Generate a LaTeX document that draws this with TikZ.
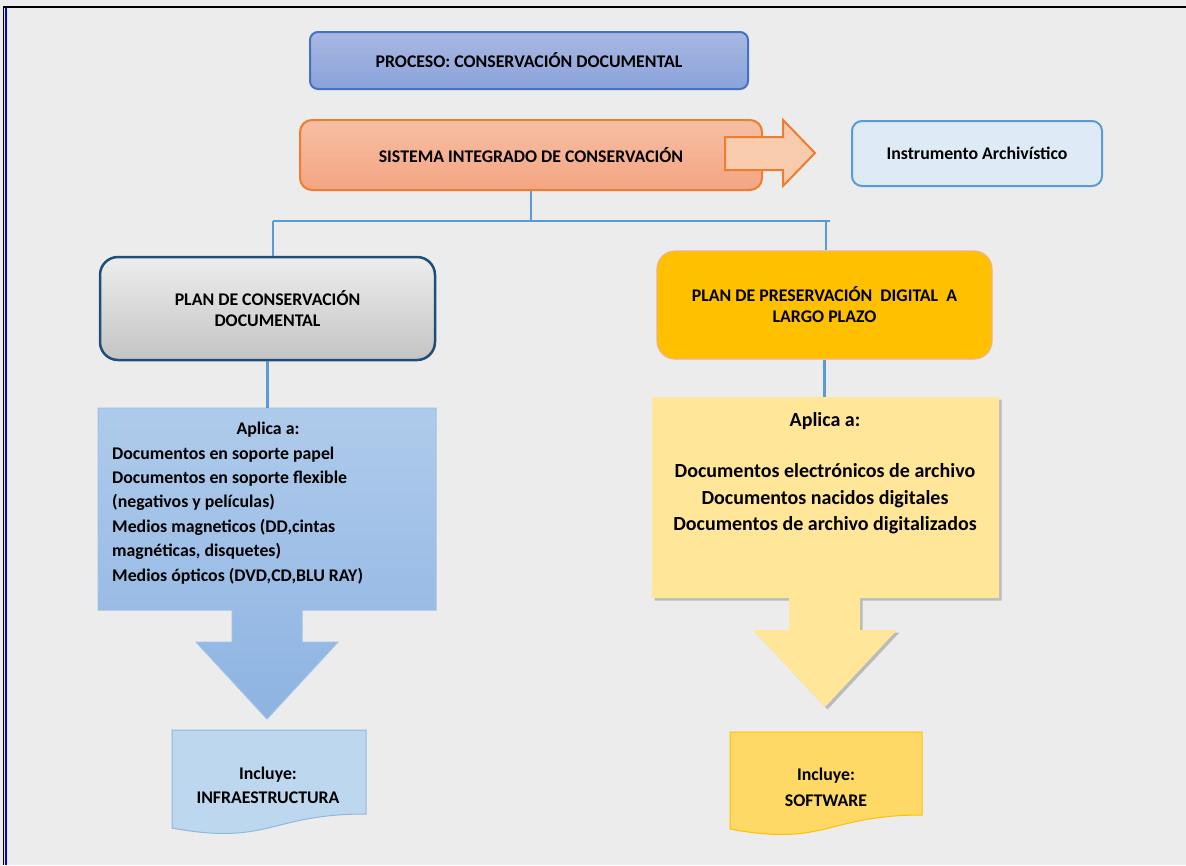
\documentclass[tikz,border=0pt]{standalone}
\usepackage{fontspec}
\setmainfont{Carlito}
\usetikzlibrary{shadows,calc}
\definecolor{bg}{HTML}{ECECEC}
\definecolor{procF}{HTML}{A9B8E2}
\definecolor{procG}{HTML}{8AA2DA}
\definecolor{procD}{HTML}{4472C4}
\definecolor{sisF}{HTML}{F7BEA3}
\definecolor{sisG}{HTML}{F4A582}
\definecolor{sisD}{HTML}{ED7D31}
\definecolor{arrF}{HTML}{F8CBAD}
\definecolor{insF}{HTML}{DEEBF7}
\definecolor{insD}{HTML}{5B9BD5}
\definecolor{pcF}{HTML}{EDEDED}
\definecolor{pcG}{HTML}{C4C4C4}
\definecolor{pcD}{HTML}{1F4E79}
\definecolor{pdF}{HTML}{FFC000}
\definecolor{pdD}{HTML}{F4B183}
\definecolor{blF}{HTML}{AFCBEB}
\definecolor{blG}{HTML}{8DB3E2}
\definecolor{blD}{HTML}{9DC3E6}
\definecolor{yeF}{HTML}{FFE699}
\definecolor{infF}{HTML}{BDD7EE}
\definecolor{infD}{HTML}{8FB8E0}
\definecolor{swF}{HTML}{FFD966}
\definecolor{swD}{HTML}{FFC000}
\definecolor{conC}{HTML}{5B9BD5}
\definecolor{frameB}{HTML}{0000EE}
\begin{document}
\begin{tikzpicture}[x=1pt,y=-1pt,
  font=\fontsize{17.8}{21}\selectfont\bfseries,
  box/.style={rectangle, inner sep=0pt, align=center, text=black},
  conn/.style={draw=conC, line width=2.2pt},
  txt/.style={inner sep=0pt, text=black}]
\useasboundingbox (0,0) rectangle (1186,865);
\fill[bg] (0,0) rectangle (1186,865);
\draw[black, line width=2.5pt] (3,7) -- (1186,7);
\draw[black, line width=1pt] (3.5,6) -- (3.5,865);
\draw[frameB, line width=2.6pt] (5.8,8) -- (5.8,865);

% top boxes
\node[box, rounded corners=8pt, draw=procD, line width=2pt, top color=procF, bottom color=procG,
  minimum width=438pt, minimum height=57pt] (proc) at (529,60.5) {PROCESO: CONSERVACIÓN DOCUMENTAL};
\node[box, rounded corners=12pt, draw=sisD, line width=2pt, top color=sisF, bottom color=sisG,
  minimum width=462pt, minimum height=70pt] (sis) at (531,155) {SISTEMA\ INTEGRADO\ DE CONSERVACIÓN};
\draw[fill=arrF, draw=sisD, line width=2pt, line join=miter]
  (725,137) -- (783,137) -- (783,120) -- (815,153) -- (783,186) -- (783,170) -- (725,170) -- cycle;
\node[box, rounded corners=10pt, draw=insD, line width=2pt, fill=insF,
  minimum width=250pt, minimum height=65pt] (ins) at (977,153.5) {Instrumento Archivístico};

% plans
\node[box, rounded corners=18pt, draw=pcD, line width=2.5pt, top color=pcF, bottom color=pcG,
  minimum width=335pt, minimum height=103pt] (pc) at (267.5,308.5) {PLAN DE CONSERVACIÓN\\DOCUMENTAL};
\node[box, rounded corners=18pt, draw=pdD, line width=1.2pt, fill=pdF,
  minimum width=335pt, minimum height=108pt] (pd) at (824.5,305) {PLAN DE PRESERVACIÓN\ \ DIGITAL\ \ A\\LARGO\ PLAZO};

% connectors
\coordinate (hl) at (273,221);
\coordinate (hm) at (826,221);
\coordinate (hr) at (830,221);
\draw[conn] (sis.south) -- (sis.south |- hl);
\draw[conn] (hl) -- (hr);
\draw[conn] (hl) -- (hl |- pc.north);
\draw[conn] (hm) -- (hm |- pd.north);

% blue apply box with arrow
\path[top color=blF, bottom color=blG, draw=blD, line width=1pt]
  (98,408) -- (436,408) -- (436,610) -- (302,610) -- (302,642) -- (338,642) -- (267,719)
  -- (196,642) -- (232,642) -- (232,610) -- (98,610) -- cycle;
\node[box, minimum width=338pt, minimum height=202pt] (apl) at (267,509) {};
\draw[conn] (pc.south) -- (pc.south |- apl.north);
\node[txt] (aplt) at (268,430) {Aplica a:};
\node[txt, anchor=north west, align=left, font=\fontsize{17.8}{24.4}\selectfont\bfseries] (apll) at (112,446.5)
  {Documentos en soporte papel\\Documentos en soporte flexible\\(negativos y películas)\\Medios magneticos (DD,cintas\\magnéticas, disquetes)\\Medios ópticos (DVD,CD,BLU\ RAY)};

% yellow apply box with arrow
\path[fill=yeF, drop shadow={shadow xshift=2.5pt, shadow yshift=-2.5pt, opacity=0.3, fill=black!70}]
  (652,397) -- (999,397) -- (999,598) -- (860,598) -- (860,630) -- (897,630) -- (825,707)
  -- (753,630) -- (789,630) -- (789,598) -- (652,598) -- cycle;
\node[box, minimum width=347pt, minimum height=201pt] (apr) at (825.5,497.5) {};
\draw[conn] (pd.south) -- (pd.south |- apr.north);
\node[txt, font=\fontsize{20}{24}\selectfont\bfseries] (aprt) at (825,421) {Aplica a:};
\node[txt, align=center, font=\fontsize{20}{26.5}\selectfont\bfseries] (aprl) at (825,499)
  {Documentos electrónicos de archivo\\Documentos nacidos digitales\\Documentos de archivo digitalizados};

% document shapes
\draw[fill=infF, draw=infD, line width=1pt]
  (172,730) -- (366,730) -- (366,814) .. controls (269,814) and (269,846) .. (172,828) -- cycle;
\node[txt, align=center, font=\fontsize{17.8}{24}\selectfont\bfseries] (inf) at (268,785) {Incluye:\\INFRAESTRUCTURA};
\draw[fill=swF, draw=swD, line width=1pt]
  (730,732) -- (922,732) -- (922,815) .. controls (826,815) and (826,847) .. (730,829) -- cycle;
\node[txt, align=center, font=\fontsize{17.8}{26}\selectfont\bfseries] (sw) at (826,787) {Incluye:\\SOFTWARE};
\end{tikzpicture}
\end{document}
